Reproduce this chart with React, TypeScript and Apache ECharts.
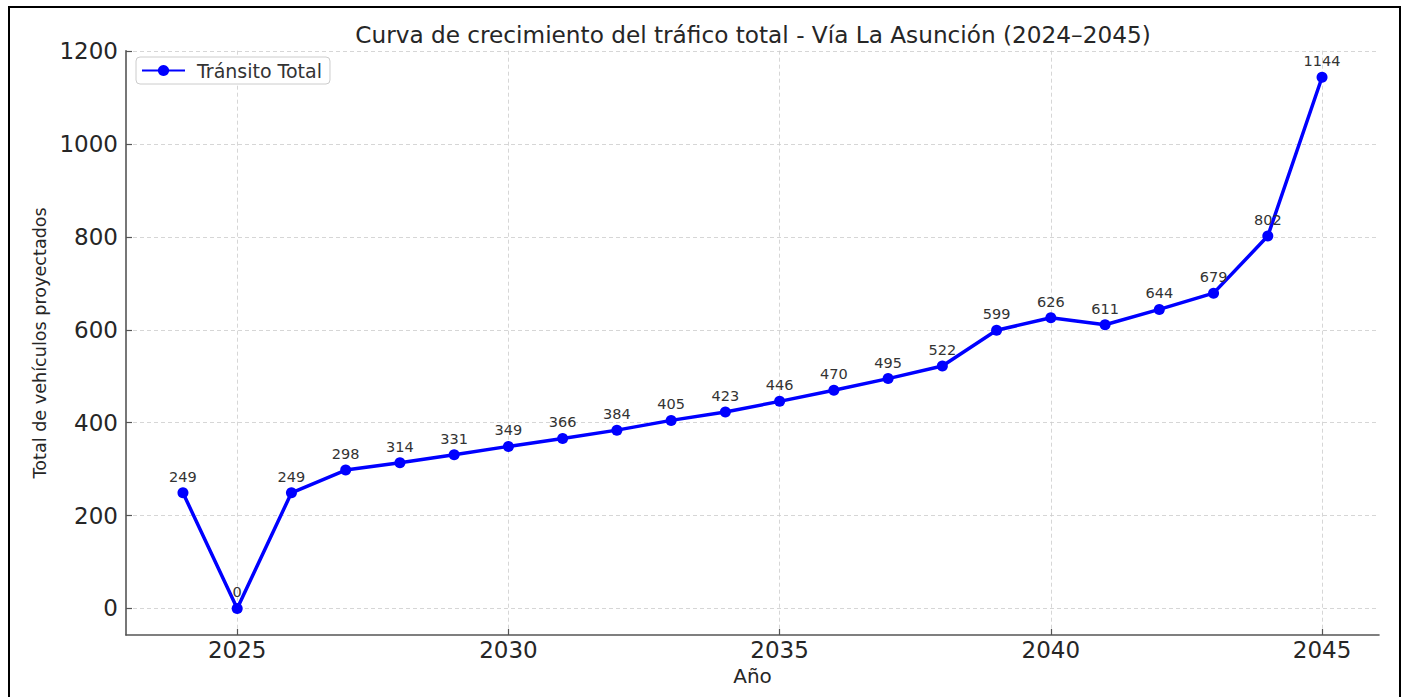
import React, { useEffect, useRef } from "react";
import * as echarts from "echarts";

const years = [2024, 2025, 2026, 2027, 2028, 2029, 2030, 2031, 2032, 2033, 2034, 2035, 2036, 2037, 2038, 2039, 2040, 2041, 2042, 2043, 2044, 2045];
const totals = [249, 0, 249, 298, 314, 331, 349, 366, 384, 405, 423, 446, 470, 495, 522, 599, 626, 611, 644, 679, 802, 1144];
const xTicks = [2025, 2030, 2035, 2040, 2045];
const yTicks = [0, 200, 400, 600, 800, 1000, 1200];

const FONT = "DejaVu Sans";

export default function App() {
  const ref = useRef<HTMLDivElement>(null);
  useEffect(() => {
    if (!ref.current) return;
    const chart = echarts.init(ref.current, null, { renderer: "svg" });
    const gridLine = { show: true, lineStyle: { color: "#cccccc", type: [4, 3], width: 0.8 } };
    chart.setOption({
      animation: false,
      backgroundColor: "#ffffff",
      textStyle: { fontFamily: FONT },
      title: {
        text: "Curva de crecimiento del tráfico total - Vía La Asunción (2024–2045)",
        left: 748,
        textAlign: "center",
        top: 18,
        textStyle: { fontFamily: FONT, fontSize: 23.2, fontWeight: "normal", color: "#262626" },
      },
      legend: {
        left: 136,
        top: 57,
        itemWidth: 43,
        itemHeight: 14,
        padding: [4, 8, 4, 5],
        backgroundColor: "#ffffff",
        borderColor: "#cccccc",
        borderWidth: 1,
        borderRadius: 4,
        textStyle: { fontFamily: FONT, fontSize: 19, color: "#333333", padding: [0, 0, 0, 7] },
        data: ["Tránsito Total"],
      },
      grid: { left: 126, right: 28, top: 50.7, bottom: 62, containLabel: false },
      xAxis: {
        type: "value",
        min: 2022.95,
        max: 2046.05,
        name: "Año",
        nameLocation: "middle",
        nameGap: 29,
        nameTextStyle: { fontFamily: FONT, fontSize: 20, color: "#262626" },
        axisLine: { show: true, onZero: false, lineStyle: { color: "#555555", width: 1.6 } },
        axisTick: { show: true, inside: true, length: 6, customValues: xTicks, lineStyle: { color: "#555555", width: 1.2 } },
        axisLabel: { customValues: xTicks, fontFamily: FONT, fontSize: 23, color: "#262626", margin: 3, formatter: (v: number) => String(v) },
        splitLine: gridLine,
      },
      yAxis: {
        type: "value",
        min: -57.2,
        max: 1201.2,
        name: "Total de vehículos proyectados",
        nameLocation: "middle",
        nameRotate: 90,
        nameGap: 74,
        nameTextStyle: { fontFamily: FONT, fontSize: 17.6, color: "#262626" },
        axisLine: { show: true, onZero: false, lineStyle: { color: "#555555", width: 1.6 } },
        axisTick: { show: true, inside: true, length: 6, customValues: yTicks, lineStyle: { color: "#555555", width: 1.2 } },
        axisLabel: { customValues: yTicks, fontFamily: FONT, fontSize: 23, color: "#262626", margin: 8, formatter: (v: number) => String(v) },
        splitLine: gridLine,
      },
      series: [
        {
          name: "Tránsito Total",
          type: "line",
          data: years.map((y, i) => [y, totals[i]]),
          symbol: "circle",
          symbolSize: 11,
          lineStyle: { color: "#0000ff", width: 3.5 },
          itemStyle: { color: "#0000ff" },
          label: {
            show: true,
            position: "top",
            distance: 3,
            fontFamily: FONT,
            fontSize: 14.5,
            color: "#333333",
            formatter: (p: any) => String(p.value[1]),
          },
        },
      ],
      graphic: [
        {
          type: "rect",
          shape: { x: 9, y: 7, width: 1391, height: 720 },
          style: { fill: "none", stroke: "#000000", lineWidth: 2 },
          silent: true,
        },
      ],
    });
    return () => chart.dispose();
  }, []);
  return <div ref={ref} style={{ position: "fixed", left: 0, top: 0, width: 1407, height: 697 }} />;
}
